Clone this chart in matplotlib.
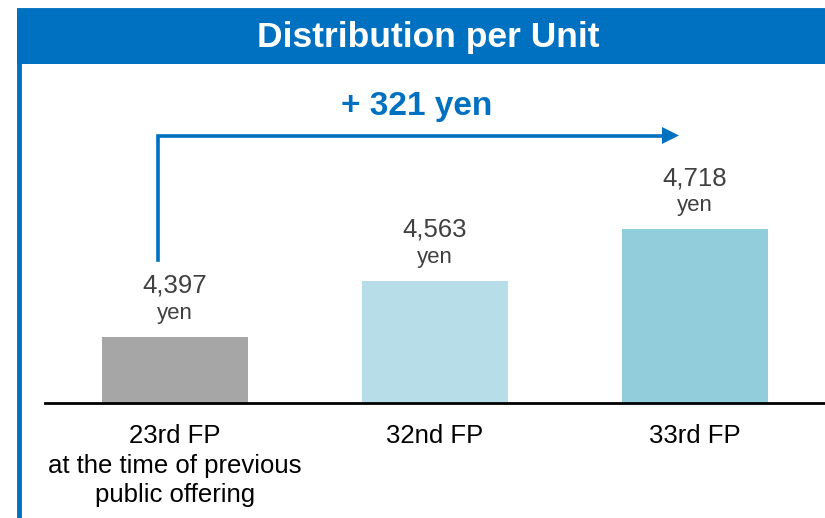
import matplotlib
matplotlib.use("Agg")
import matplotlib.pyplot as plt
from matplotlib.patches import Rectangle, Polygon
from matplotlib.lines import Line2D

plt.rcParams['font.family'] = ['Liberation Sans', 'DejaVu Sans']

categories = ["23rd FP\nat the time of previous\npublic offering", "32nd FP", "33rd FP"]
values = [4397, 4563, 4718]
value_labels = ["4,397", "4,563", "4,718"]
bar_colors = ["#A6A6A6", "#B7DDE8", "#92CDDC"]
title = "Distribution per Unit"
increase_label = "+ 321 yen"

W, H = 825, 518
fig = plt.figure(figsize=(W / 100, H / 100), dpi=100)
fig.patch.set_facecolor("white")

def fx(x):
    return x / W

def fy(y):
    return 1 - y / H

BLUE = "#0070C0"

# frame and header
fig.add_artist(Rectangle((fx(19), fy(530)), fx(900), fy(10) - fy(530),
                         transform=fig.transFigure, facecolor="none",
                         edgecolor=BLUE, linewidth=3.5, zorder=0))
fig.add_artist(Rectangle((fx(17), fy(64)), fx(900), fy(10) - fy(64),
                         transform=fig.transFigure, facecolor=BLUE,
                         edgecolor="none", zorder=1))
fig.text(fx(428), fy(37), title, color="white", fontsize=25.5, fontweight="bold",
         ha="center", va="center")

# axes
ax_bottom_px, ax_top_px = 403, 65
ax = fig.add_axes([fx(45), fy(ax_bottom_px), fx(780), (ax_bottom_px - ax_top_px) / H])
ax.set_facecolor("none")
ymin = 4200
scale = 0.335  # px per yen
ax.set_ylim(ymin, ymin + (ax_bottom_px - ax_top_px) / scale)
ax.set_xlim(-0.5, 2.5)

x = range(len(values))
ax.bar(x, [v - ymin for v in values], bottom=ymin, width=0.558,
       color=bar_colors, zorder=2)

for i, (v, lab) in enumerate(zip(values, value_labels)):
    ax.annotate("yen", (i, v), xytext=(0, 13), textcoords="offset points",
                ha="center", va="baseline", fontsize=16, color="#404040")
    ax.annotate(lab, (i, v), xytext=(0, 32), textcoords="offset points",
                ha="center", va="baseline", fontsize=18.5, color="#404040")

for s in ["top", "left", "right"]:
    ax.spines[s].set_visible(False)
ax.spines["bottom"].set_linewidth(2)
ax.spines["bottom"].set_color("black")
ax.spines["bottom"].set_zorder(3)
ax.set_yticks([])
ax.set_xticks(list(x))
ax.set_xticklabels(categories, fontsize=18.5, color="black", linespacing=1.3)
ax.tick_params(axis="x", length=0, pad=15)

# increase arrow
fig.add_artist(Line2D([fx(158), fx(158), fx(664)], [fy(260), fy(135.5), fy(135.5)],
                      transform=fig.transFigure, color=BLUE, linewidth=2.6,
                      solid_joinstyle="miter"))
fig.add_artist(Polygon([(fx(662), fy(127)), (fx(662), fy(144)), (fx(679), fy(135.5))],
                       closed=True, transform=fig.transFigure, facecolor=BLUE,
                       edgecolor="none"))
fig.text(fx(417), fy(107), increase_label, color=BLUE, fontsize=24,
         fontweight="bold", ha="center", va="center")

fig.savefig("out.png", dpi=100)
